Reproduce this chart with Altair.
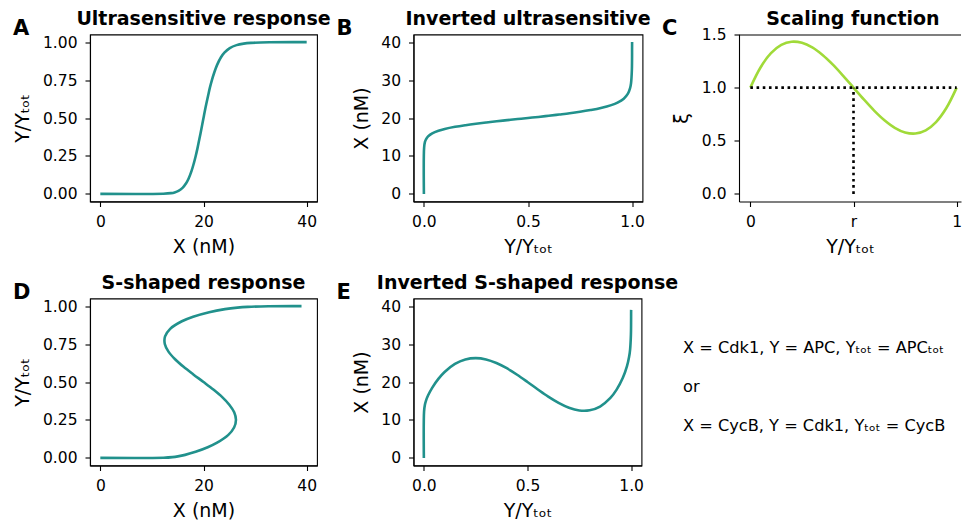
import altair as alt
import pandas as pd

FONT = "DejaVu Sans"
TEAL = "#21918c"
LIME = "#a0da39"

# ---- data ----
# shared grid of Y/Ytot values along the response curves
y_frac = [0, 0.001, 0.005, 0.01, 0.02, 0.04, 0.07, 0.1,
          0.15, 0.2, 0.25, 0.3, 0.35, 0.4, 0.45, 0.5, 0.55, 0.6, 0.65, 0.7, 0.75, 0.8, 0.85, 0.9,
          0.93, 0.96, 0.98, 0.99, 0.995, 0.999, 0.9999, 1.0]
# X (nM) of the ultrasensitive curve (panels A, B)
x_ultra = [0, 12.21, 13.70, 14.40, 15.15, 15.94, 16.63, 17.10,
           17.67, 18.11, 18.49, 18.83, 19.13, 19.43, 19.72, 20.00, 20.28, 20.59, 20.91, 21.24, 21.63, 22.09, 22.64, 23.39,
           24.05, 25.09, 26.40, 27.78, 29.20, 32.76, 38.6, 40.0]
# X (nM) of the S-shaped curve (panels D, E)
x_sshape = [0, 12.26, 14.00, 15.03, 16.43, 18.47, 20.82, 22.64,
            24.77, 25.93, 26.29, 25.95, 25.00, 23.63, 21.91, 20.00, 18.03, 16.14, 14.49, 13.21, 12.50, 12.55, 13.54, 15.81,
            17.99, 21.10, 24.16, 26.57, 28.55, 32.61, 38.4, 39.0]
# scaling function (panel C)
xi_y = [0, 0.05, 0.1, 0.15, 0.2, 0.25, 0.3, 0.35, 0.4, 0.45, 0.5,
        0.55, 0.6, 0.65, 0.7, 0.75, 0.8, 0.85, 0.9, 0.95, 1.0]
xi_vals = [1.0, 1.192, 1.324, 1.402, 1.432, 1.422, 1.378, 1.307, 1.216, 1.111, 1.0,
           0.889, 0.784, 0.693, 0.622, 0.578, 0.568, 0.598, 0.676, 0.808, 1.0]
# dotted guides in panel C (level xi = 1 and Y/Ytot = r)
guide_x = [0.0, 0.5]
guide_x2 = [1.0, 0.5]
guide_y = [1.0, 0.0]
guide_y2 = [1.0, 1.0]

# tick values
x_ticks = [0, 20, 40]
x_ticks_v = [0, 10, 20, 30, 40]
frac_ticks = [0, 0.25, 0.5, 0.75, 1.0]
frac_ticks_h = [0, 0.5, 1.0]
xi_ticks = [0, 0.5, 1.0, 1.5]
scaling_ticks = [0, 0.5, 1]

titles = ["Ultrasensitive response", "Inverted ultrasensitive", "Scaling function",
          "S-shaped response", "Inverted S-shaped response"]
letters = ["A", "B", "C", "D", "E"]
notes = ["X = Cdk1, Y = APC, Yₜₒₜ = APCₜₒₜ", "or", "X = CycB, Y = Cdk1, Yₜₒₜ = CycB"]
note_rows = [1, 2, 3]

YT = "Y/Yₜₒₜ"
XT = "X (nM)"

curves = pd.DataFrame({"i": list(range(len(y_frac))), "frac": y_frac, "xu": x_ultra, "xs": x_sshape})
xi_df = pd.DataFrame({"i": list(range(len(xi_y))), "y": xi_y, "xi": xi_vals})
guide_df = pd.DataFrame({"gx": guide_x, "gx2": guide_x2, "gy": guide_y, "gy2": guide_y2})
notes_df = pd.DataFrame({"text": notes, "row": note_rows, "col": [0] * len(notes)})

X_SCALE = alt.Scale(domain=[-2, 42], nice=False, zero=False)
F_SCALE = alt.Scale(domain=[-0.05, 1.05], nice=False, zero=False)
CX_SCALE = alt.Scale(domain=[-0.055, 1.021], nice=False, zero=False)
CY_SCALE = alt.Scale(domain=[-0.0715, 1.5], nice=False, zero=False)

W_A, W_B, W_C, W_D, W_E = 227, 229, 222, 227, 228
H = 167


def letter(ch):
    return alt.Chart(pd.DataFrame({"t": [ch]})).mark_text(
        align="left", baseline="alphabetic", font=FONT, fontSize=21,
        fontWeight="bold", color="black"
    ).encode(text="t:N", x=alt.value(-77), y=alt.value(0))


def xaxis_X():
    return alt.Axis(values=x_ticks, format="d", title=XT)


def yaxis_X():
    return alt.Axis(values=x_ticks_v, format="d", title=XT)


def xaxis_F():
    return alt.Axis(values=frac_ticks_h, format=".1f", title=YT)


def yaxis_F():
    return alt.Axis(values=frac_ticks, format=".2f", title=YT)


def teal_line(xf, yf, xscale, yscale, xaxis, yaxis):
    return alt.Chart(curves).mark_line(
        color=TEAL, strokeWidth=2.6, interpolate="catmull-rom"
    ).encode(
        x=alt.X(xf, scale=xscale, axis=xaxis),
        y=alt.Y(yf, scale=yscale, axis=yaxis),
        order="i:Q",
    )


A = alt.layer(
    teal_line("xu:Q", "frac:Q", X_SCALE, F_SCALE, xaxis_X(), yaxis_F()), letter(letters[0])
).properties(width=W_A, height=H, title=titles[0])

B = alt.layer(
    teal_line("frac:Q", "xu:Q", F_SCALE, X_SCALE, xaxis_F(), yaxis_X()), letter(letters[1])
).properties(width=W_B, height=H, title=titles[1])

C_XAXIS = alt.Axis(values=scaling_ticks, title=YT, orient="bottom",
                   labelExpr="datum.value == 0 ? '0' : (datum.value == 1 ? '1' : 'r')")
C_YAXIS = alt.Axis(values=xi_ticks, format=".1f", title="ξ", orient="left")

xi_line = alt.Chart(xi_df).mark_line(
    color=LIME, strokeWidth=2.6, interpolate="catmull-rom"
).encode(
    x=alt.X("y:Q", scale=CX_SCALE, axis=C_XAXIS),
    y=alt.Y("xi:Q", scale=CY_SCALE, axis=C_YAXIS),
    order="i:Q",
)
guides = alt.Chart(guide_df).mark_rule(
    color="black", strokeWidth=2.6, strokeDash=[2.6, 3.6]
).encode(
    x=alt.X("gx:Q", scale=CX_SCALE, axis=C_XAXIS),
    x2="gx2:Q",
    y=alt.Y("gy:Q", scale=CY_SCALE, axis=C_YAXIS),
    y2="gy2:Q",
)
# top frame line of panel C (its right side is cut off by the page edge)
top_spine = alt.Chart(pd.DataFrame({"s": [0]})).mark_rule(
    color="black", strokeWidth=1.1
).encode(x=alt.value(0), x2=alt.value(W_C), y=alt.value(0.5))

C = alt.layer(xi_line, guides, top_spine, letter(letters[2])).properties(
    width=W_C, height=H, title=alt.TitleParams(titles[2], dx=3),
    view=alt.ViewBackground(stroke=None)
)

D = alt.layer(
    teal_line("xs:Q", "frac:Q", X_SCALE, F_SCALE, xaxis_X(), yaxis_F()), letter(letters[3])
).properties(width=W_D, height=H, title=titles[3])

E = alt.layer(
    teal_line("frac:Q", "xs:Q", F_SCALE, X_SCALE, xaxis_F(), yaxis_X()), letter(letters[4])
).properties(width=W_E, height=H, title=titles[4])

T = alt.Chart(notes_df).mark_text(
    align="left", baseline="alphabetic", font=FONT, fontSize=16.2, color="black", dx=-56
).encode(
    x=alt.X("col:Q", scale=alt.Scale(domain=[0, 1]), axis=None),
    y=alt.Y("row:Q", scale=alt.Scale(domain=[-0.38, 3.88], reverse=True, nice=False, zero=False), axis=None),
    text="text:N",
).properties(width=W_C, height=H, view=alt.ViewBackground(stroke=None))

chart = alt.concat(
    A, B, C, D, E, T, columns=3, spacing={"row": 97, "column": 96.5}, bounds="flush"
).properties(
    padding={"left": 12, "top": 8.5, "right": 0, "bottom": 0}
).configure_view(
    stroke="black", strokeWidth=1.1
).configure_axis(
    domainColor="black", domainWidth=1.1, tickColor="black", tickWidth=1.1, tickSize=5,
    labelFont=FONT, labelFontSize=15.5, labelColor="black", labelPadding=8,
    titleFont=FONT, titleFontSize=19, titleFontWeight="normal", titleColor="black",
    grid=False,
).configure_axisBottom(
    titlePadding=7
).configure_axisLeft(
    titlePadding=9.5
).configure_title(
    font=FONT, fontSize=19, fontWeight="bold", color="black", anchor="middle",
    frame="group", offset=-11,
)

chart.save("out.html", embed_options={"renderer": "svg", "actions": False})
